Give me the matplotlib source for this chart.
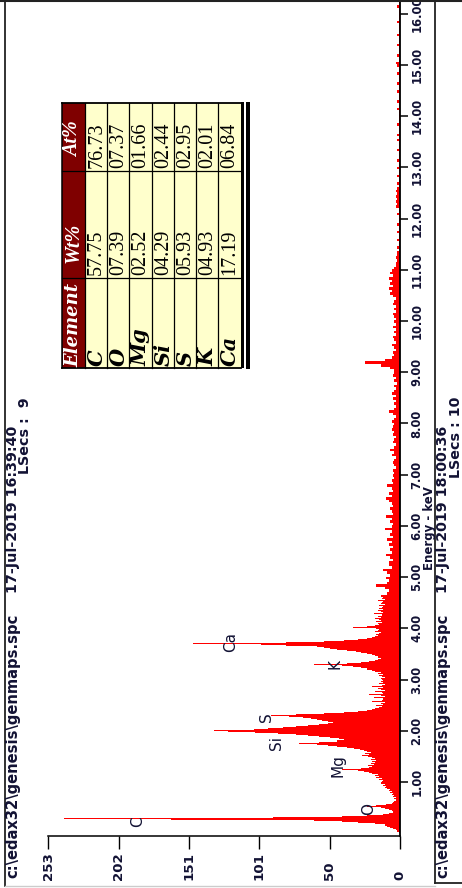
import numpy as np
import matplotlib
matplotlib.use("Agg")
import matplotlib.pyplot as plt
from matplotlib.patches import Rectangle

# ---------------- data ----------------
lo_step = 0.02          # keV per bar, 0.02 .. 4.60 keV
counts_lo = [
    1, 2, 2, 3, 5, 7, 9, 11, 18, 30,
    42, 62, 165, 242, 91, 42, 24, 12, 8, 5,
    5, 6, 8, 11, 14, 24, 17, 10, 6, 5,
    4, 3, 3, 4, 3, 5, 4, 6, 5, 7,
    6, 8, 7, 9, 11, 10, 12, 11, 14, 13,
    12, 15, 13, 17, 15, 18, 16, 20, 22, 26,
    30, 42, 28, 22, 20, 23, 19, 21, 18, 20,
    17, 21, 18, 20, 23, 27, 22, 25, 21, 24,
    26, 29, 33, 38, 45, 52, 60, 73, 58, 45,
    40, 44, 50, 58, 66, 75, 88, 104, 124, 134,
    105, 95, 84, 75, 66, 58, 52, 48, 52, 56,
    60, 64, 70, 80, 93, 75, 55, 40, 30, 24,
    20, 18, 15, 13, 17, 12, 14, 11, 20, 13,
    12, 19, 11, 14, 22, 12, 13, 18, 11, 14,
    16, 12, 20, 13, 11, 15, 12, 14, 12, 13,
    14, 11, 13, 15, 12, 16, 14, 18, 20, 24,
    24, 28, 34, 42, 62, 38, 28, 22, 18, 16,
    14, 16, 18, 20, 24, 28, 32, 38, 45, 50,
    55, 60, 82, 100, 149, 82, 55, 40, 30, 24,
    20, 18, 16, 17, 15, 14, 18, 16, 15, 17,
    34, 24, 18, 15, 16, 13, 17, 14, 15, 18,
    14, 16, 13, 19, 12, 14, 16, 12, 15, 13,
    12, 15, 11, 14, 13, 12, 16, 11, 13, 12,
]
hi_start = 4.635        # keV of first coarse bar
hi_step = 0.05
counts_hi = [
    14, 9, 8, 11, 17, 9, 8, 10,
    7, 9, 12, 6, 8, 8, 5, 7, 10, 6, 7, 5, 8, 6, 9, 5, 7, 6, 11, 6,
    5, 7, 6, 10, 5, 6, 7, 5, 6, 8, 10, 6, 8, 5, 6, 9, 5, 6, 4, 5,
    4, 5, 3, 4, 5, 4, 3, 6, 4, 7, 4, 3, 5, 4, 3, 5, 4, 6, 5, 4,
    6, 4, 3, 5, 8, 4, 3, 4, 3, 5, 3, 6, 4, 3, 4, 2, 4, 3, 5, 4,
    4, 7, 14, 25, 11, 6, 4, 5, 3, 4, 6, 3, 4, 5, 3, 4, 3, 5, 3, 4,
    3, 4, 5, 3, 4, 3, 5, 4, 3, 5, 7, 6, 8, 5, 7, 6, 8, 5, 7, 6,
    4, 3, 3, 2, 3, 2, 2, 1, 2, 1, 1, 2, 1, 1, 2, 1, 1, 2, 1, 1,
    1, 2, 1, 1, 3, 2, 3, 2, 3, 2, 3, 2, 1, 2, 1, 1, 2, 1, 1, 2,
    1, 1, 2, 1, 1, 1, 2, 1, 1, 1, 2, 1, 2, 1, 1, 1, 2, 1, 1, 1,
    1, 1, 2, 1, 1, 2, 1, 1, 1, 2, 1, 1, 2, 1, 1, 1, 2, 1, 1, 2,
    3, 1, 1, 2, 1, 1, 1, 2, 1, 1, 1, 2, 1, 1, 1, 1, 2, 1, 1, 1,
    1, 1, 2, 1, 1,
]

count_ticks = [0, 50.6, 101.2, 151.8, 202.4, 253]
count_tick_labels = ["0", "50", "101", "151", "202", "253"]
energy_ticks = list(range(1, 17))
energy_tick_labels = ["%.2f" % v for v in energy_ticks]

peak_names = ["C", "O", "Mg", "Si", "S", "K", "Ca"]
peak_label_energy = [0.225, 0.466, 1.32, 1.755, 2.27, 3.30, 3.74]
peak_label_count = [189, 22.7, 44.3, 88.6, 95.9, 46.7, 122]

elements = ["C", "O", "Mg", "Si", "S", "K", "Ca"]
wt_pct = ["57.75", "07.39", "02.52", "04.29", "05.93", "04.93", "17.19"]
at_pct = ["76.73", "07.37", "01.66", "02.44", "02.95", "02.01", "06.84"]

file_name = "c:\\edax32\\genesis\\genmaps.spc"
left_stamp = "17-Jul-2019 16:39:40"
left_lsecs = "LSecs :  9"
right_stamp = "17-Jul-2019 18:00:36"
right_lsecs = "LSecs : 10"

# ---------------- figure ----------------
W, H = 462, 888
fig = plt.figure(figsize=(W / 100, H / 100), dpi=100)
fig.patch.set_facecolor("white")

TXT = "#121234"
BOLD = dict(family="DejaVu Sans", weight="bold", color=TXT)

# overlay in pixel coordinates (frames, table, stamps)
ov = fig.add_axes([0, 0, 1, 1], zorder=3)
ov.set_xlim(0, W)
ov.set_ylim(H, 0)
ov.axis("off")
ov.patch.set_alpha(0)

# spectrum axes
x_c253, x_c0 = 48.3, 400.0
y_top, y_bot = 0.0, 835.5
px_per_kev = 51.22
e0_pix = 833.2
ax = fig.add_axes([x_c253 / W, 1 - y_bot / H, (x_c0 - x_c253) / W, (y_bot - y_top) / H], zorder=2)
ax.patch.set_alpha(0)
ax.set_xlim(253, 0)
ax.set_ylim((e0_pix - y_bot) / px_per_kev, (e0_pix - y_top) / px_per_kev)

energy_lo = lo_step * np.arange(1, len(counts_lo) + 1)
energy_hi = hi_start + hi_step * np.arange(len(counts_hi))
ax.barh(energy_lo, counts_lo, height=lo_step, color="#ff0000", linewidth=0, zorder=2)
ax.barh(energy_hi, counts_hi, height=hi_step, color="#ff0000", linewidth=0, zorder=2)

for sp in ["left", "top"]:
    ax.spines[sp].set_visible(False)
ax.spines["right"].set_linewidth(1.3)
ax.spines["bottom"].set_linewidth(1.1)
ax.yaxis.tick_right()
ax.set_yticks(energy_ticks)
ax.set_yticklabels(energy_tick_labels, rotation=90, va="center", ha="left",
                   fontsize=8.3, fontweight="bold", color=TXT)
ax.tick_params(axis="y", direction="out", length=6, width=1.1, pad=1.5)
ax.set_xticks(count_ticks)
ax.set_xticklabels([])
ax.tick_params(axis="x", direction="out", length=9.5, width=1.0)
for v, lab in zip(count_ticks, count_tick_labels):
    ax.text(v, -(880 - y_bot) / (y_bot - y_top), lab, transform=ax.get_xaxis_transform(),
            rotation=90, ha="center", va="bottom", fontsize=9.6, clip_on=False, **BOLD)

ov.text(429.3, 528, "Energy - keV", rotation=90, ha="center", va="center", fontsize=8.5, **BOLD)

for name, e, c in zip(peak_names, peak_label_energy, peak_label_count):
    ax.text(c, e, name, rotation=90, ha="center", va="center", fontsize=11,
            family="DejaVu Sans", color=TXT, zorder=4)

# ---------------- frames ----------------
ov.plot([5, 5], [0, 886], color="#222222", lw=1.3)
ov.plot([435, 435], [0, 883], color="#222222", lw=1.3)
ov.plot([0, W], [0.6, 0.6], color="#222222", lw=1.5)
ov.plot([5, 435], [886, 886], color="#cccccc", lw=1.0)
ov.plot([435, W], [883, 883], color="#222222", lw=1.3)

# stamps (rotated text)
ov.text(13, 878, file_name, rotation=90, rotation_mode="anchor", ha="left", va="center",
        fontsize=10.6, **BOLD)
ov.text(13, 593, left_stamp, rotation=90, rotation_mode="anchor", ha="left", va="center",
        fontsize=10.3, **BOLD)
ov.text(25.5, 397, left_lsecs, rotation=90, rotation_mode="anchor", ha="right", va="center",
        fontsize=10.3, **BOLD)
ov.text(443, 878, file_name, rotation=90, rotation_mode="anchor", ha="left", va="center",
        fontsize=10.6, **BOLD)
ov.text(443, 593, right_stamp, rotation=90, rotation_mode="anchor", ha="left", va="center",
        fontsize=10.3, **BOLD)
ov.text(455.5, 397, right_lsecs, rotation=90, rotation_mode="anchor", ha="right", va="center",
        fontsize=10.3, **BOLD)

# ---------------- table ----------------
col_edges = [62, 85, 107.3, 129.3, 151.7, 174, 196, 218.3, 240.7]
y_at0, y_at1, y_wt1, y_el1 = 103, 171, 278, 368
ov.add_patch(Rectangle((col_edges[0], y_at0), col_edges[1] - col_edges[0], y_el1 - y_at0,
                       facecolor="#7f0000", edgecolor="none"))
ov.add_patch(Rectangle((col_edges[1], y_at0), col_edges[-1] - col_edges[1], y_el1 - y_at0,
                       facecolor="#ffffcc", edgecolor="none"))
for xe in col_edges[1:-1]:
    ov.plot([xe, xe], [y_at0, y_el1], color="black", lw=0.9)
for ye in [y_at1, y_wt1]:
    ov.plot([col_edges[0], col_edges[-1]], [ye, ye], color="black", lw=0.9)
ov.plot([col_edges[0], col_edges[-1]], [y_at0, y_at0], color="black", lw=1.3)
ov.plot([col_edges[0], col_edges[-1]], [y_el1, y_el1], color="black", lw=1.3)
ov.plot([col_edges[0], col_edges[0]], [y_at0, y_el1], color="black", lw=1.1)
ov.add_patch(Rectangle((240.7, y_at0 - 0.5), 3.6, y_el1 - y_at0 + 1, facecolor="black", edgecolor="none"))
ov.add_patch(Rectangle((246.3, y_at0 - 1.3), 3.2, y_el1 - y_at0 + 2.3, facecolor="black", edgecolor="none"))

hx = (col_edges[0] + col_edges[1]) / 2
ov.text(hx, 367, "Element", rotation=90, rotation_mode="anchor", ha="left", va="center",
        fontsize=13, family="DejaVu Serif", weight="bold", style="italic", color="white")
ov.text(hx, 263, "Wt%", rotation=90, rotation_mode="anchor", ha="left", va="center",
        fontsize=14.5, family="Liberation Serif", weight="bold", style="italic", color="white")
ov.text(hx, 157, "At%", rotation=90, rotation_mode="anchor", ha="left", va="center",
        fontsize=14.5, family="Liberation Serif", weight="bold", style="italic", color="white")
for i, (el, w, a) in enumerate(zip(elements, wt_pct, at_pct)):
    cx = (col_edges[i + 1] + col_edges[i + 2]) / 2 + 0.5
    ov.text(cx, 366, el, rotation=90, rotation_mode="anchor", ha="left", va="center",
            fontsize=15, family="DejaVu Serif", weight="bold", style="italic", color="black")
    ov.text(cx, 275, w, rotation=90, rotation_mode="anchor", ha="left", va="center",
            fontsize=14.5, family="Liberation Serif", color="black")
    ov.text(cx, 168, a, rotation=90, rotation_mode="anchor", ha="left", va="center",
            fontsize=14.5, family="Liberation Serif", color="black")

fig.savefig("out.png", dpi=100)
